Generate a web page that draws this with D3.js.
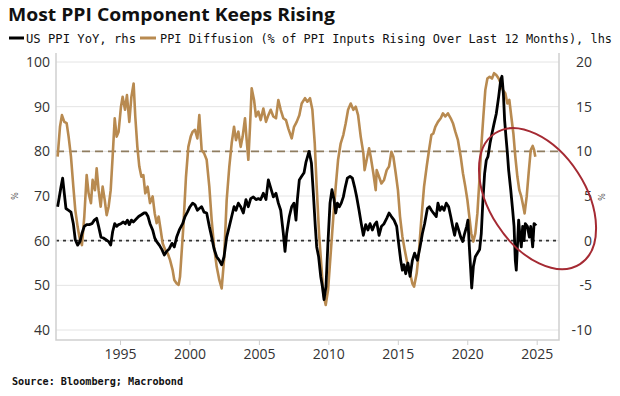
<!DOCTYPE html>
<html><head><meta charset="utf-8">
<script src="https://cdn.jsdelivr.net/npm/d3@7/dist/d3.min.js"></script>
<style>body{margin:0;background:#fff}svg{display:block}</style>
</head><body><svg id="c" width="620" height="396"></svg>
<script>
// PPI Diffusion (% of PPI inputs rising over last 12 months), left axis: [decimal year, value]
const diffusion = [[1990.51,78.8],[1990.68,85.5],[1990.82,88.1],[1990.99,86.6],[1991.16,86.3],[1991.30,83.3],[1991.47,78.8],[1991.64,72.1],[1991.78,66.9],[1991.95,63.1],[1992.12,60.1],[1992.26,59.0],[1992.43,65.4],[1992.60,74.7],[1992.74,70.6],[1992.91,68.4],[1993.03,73.6],[1993.20,71.3],[1993.32,76.2],[1993.46,71.3],[1993.61,67.6],[1993.75,72.1],[1993.90,69.1],[1994.04,65.7],[1994.18,67.6],[1994.33,71.3],[1994.47,78.8],[1994.62,87.4],[1994.76,83.3],[1994.90,84.4],[1995.07,90.0],[1995.19,92.2],[1995.36,89.3],[1995.50,92.6],[1995.67,86.6],[1995.82,92.2],[1995.98,95.2],[1996.10,87.8],[1996.25,81.0],[1996.39,76.6],[1996.54,74.3],[1996.68,74.7],[1996.82,70.6],[1996.99,72.1],[1997.16,68.4],[1997.35,69.9],[1997.50,66.1],[1997.64,63.9],[1997.78,65.4],[1997.93,62.4],[1998.07,59.4],[1998.26,57.9],[1998.43,57.2],[1998.60,55.7],[1998.79,53.4],[1998.91,51.2],[1999.08,50.4],[1999.22,50.1],[1999.32,51.9],[1999.56,63.1],[1999.75,74.3],[1999.92,81.0],[2000.09,83.3],[2000.23,84.4],[2000.40,84.8],[2000.57,82.9],[2000.71,88.1],[2000.88,80.3],[2001.05,79.6],[2001.24,78.1],[2001.43,72.1],[2001.60,64.6],[2001.77,58.7],[2001.96,54.2],[2002.15,51.2],[2002.32,49.3],[2002.49,55.7],[2002.68,69.1],[2002.87,76.6],[2003.04,81.8],[2003.21,85.5],[2003.35,82.5],[2003.52,84.4],[2003.69,81.0],[2003.83,83.3],[2004.00,87.4],[2004.12,82.5],[2004.24,78.1],[2004.36,85.5],[2004.48,94.1],[2004.65,91.5],[2004.79,87.8],[2004.96,88.9],[2005.13,87.0],[2005.32,89.6],[2005.51,86.6],[2005.68,88.1],[2005.85,89.3],[2006.04,87.8],[2006.23,87.4],[2006.40,91.5],[2006.57,89.3],[2006.76,87.4],[2006.95,87.0],[2007.12,85.1],[2007.36,82.9],[2007.53,85.5],[2007.72,86.6],[2007.91,88.1],[2008.08,90.7],[2008.32,91.9],[2008.49,91.1],[2008.68,91.9],[2008.85,89.3],[2009.02,81.8],[2009.16,72.1],[2009.33,61.6],[2009.50,54.2],[2009.64,48.2],[2009.81,45.6],[2009.98,49.0],[2010.17,57.2],[2010.36,65.4],[2010.53,72.1],[2010.70,78.1],[2010.89,81.8],[2011.08,83.7],[2011.25,86.3],[2011.42,89.3],[2011.61,90.7],[2011.80,89.3],[2011.97,90.0],[2012.14,88.1],[2012.33,83.3],[2012.52,79.6],[2012.61,75.8],[2012.76,78.1],[2012.93,80.7],[2013.05,78.8],[2013.24,75.1],[2013.41,71.3],[2013.48,75.8],[2013.65,74.3],[2013.82,72.8],[2014.01,73.6],[2014.20,75.8],[2014.37,76.6],[2014.54,79.9],[2014.68,78.8],[2014.85,75.1],[2015.01,71.3],[2015.16,65.4],[2015.33,60.9],[2015.50,57.9],[2015.69,54.9],[2015.88,52.7],[2016.05,50.4],[2016.17,49.7],[2016.36,52.7],[2016.53,57.9],[2016.69,64.6],[2016.89,72.1],[2017.08,76.6],[2017.25,80.3],[2017.42,83.7],[2017.56,84.0],[2017.70,85.5],[2017.89,86.6],[2018.09,87.4],[2018.25,88.5],[2018.42,87.8],[2018.61,88.5],[2018.81,87.4],[2018.97,86.3],[2019.14,84.4],[2019.33,82.5],[2019.53,78.8],[2019.69,75.1],[2019.86,72.1],[2020.01,69.1],[2020.15,65.4],[2020.29,61.6],[2020.44,59.8],[2020.58,61.6],[2020.73,66.1],[2020.89,74.3],[2021.01,81.0],[2021.16,87.8],[2021.30,93.7],[2021.45,96.3],[2021.61,96.7],[2021.78,96.3],[2021.93,97.5],[2022.09,97.1],[2022.26,96.3],[2022.41,95.2],[2022.57,93.7],[2022.74,93.0],[2022.89,90.7],[2023.03,91.5],[2023.17,87.8],[2023.32,84.0],[2023.46,78.8],[2023.61,74.3],[2023.75,71.3],[2023.89,69.9],[2024.04,67.6],[2024.13,66.1],[2024.28,69.9],[2024.42,75.1],[2024.57,80.3],[2024.71,81.2],[2024.81,80.3],[2024.90,78.8]];

// US PPI YoY (%), right axis: [decimal year, value]
const ppiYoY = [[1990.51,3.8],[1990.63,4.9],[1990.75,6.0],[1990.87,7.0],[1990.99,5.3],[1991.11,3.6],[1991.30,3.4],[1991.47,3.2],[1991.64,1.9],[1991.78,0.1],[1991.95,-0.5],[1992.12,-0.1],[1992.26,0.8],[1992.43,1.6],[1992.60,1.8],[1992.79,1.8],[1992.98,1.9],[1993.15,2.3],[1993.32,2.5],[1993.46,1.6],[1993.63,0.4],[1993.80,0.3],[1993.99,0.1],[1994.18,-0.1],[1994.33,-0.5],[1994.47,1.0],[1994.62,1.9],[1994.76,1.6],[1994.90,1.8],[1995.07,1.9],[1995.24,2.1],[1995.38,1.9],[1995.53,2.3],[1995.67,1.8],[1995.82,2.3],[1995.96,2.1],[1996.15,2.4],[1996.34,2.7],[1996.54,2.9],[1996.73,3.1],[1996.87,3.1],[1997.02,2.7],[1997.16,1.9],[1997.35,1.2],[1997.50,0.3],[1997.64,-0.1],[1997.83,-0.5],[1998.02,-1.0],[1998.19,-1.6],[1998.36,-1.2],[1998.55,-0.9],[1998.74,-0.3],[1998.91,-0.7],[1999.08,0.4],[1999.27,1.2],[1999.51,1.9],[1999.68,2.7],[1999.85,3.2],[2000.04,3.8],[2000.23,4.2],[2000.40,4.0],[2000.57,3.4],[2000.71,3.6],[2000.88,3.8],[2001.05,3.2],[2001.24,3.1],[2001.43,1.6],[2001.60,0.4],[2001.77,-0.9],[2001.96,-1.8],[2002.15,-2.2],[2002.32,-2.7],[2002.49,-1.8],[2002.68,0.4],[2002.87,1.6],[2003.04,2.7],[2003.21,3.8],[2003.35,3.4],[2003.52,4.2],[2003.69,3.8],[2003.88,3.1],[2004.07,4.6],[2004.24,3.8],[2004.41,4.7],[2004.60,4.9],[2004.79,4.6],[2004.96,4.7],[2005.13,4.6],[2005.32,5.3],[2005.51,4.6],[2005.68,6.8],[2005.85,5.9],[2006.04,4.9],[2006.23,5.3],[2006.40,4.2],[2006.57,3.4],[2006.76,0.8],[2006.88,-1.2],[2007.00,0.8],[2007.19,2.7],[2007.36,3.8],[2007.53,4.2],[2007.67,2.3],[2007.77,4.6],[2007.91,6.8],[2008.08,7.2],[2008.25,7.6],[2008.39,8.8],[2008.61,10.0],[2008.78,8.7],[2008.92,5.3],[2009.06,1.6],[2009.16,-0.7],[2009.30,-1.8],[2009.45,-4.0],[2009.57,-5.1],[2009.69,-6.6],[2009.83,-5.1],[2009.97,-0.3],[2010.12,4.2],[2010.26,5.7],[2010.41,4.6],[2010.53,3.1],[2010.65,4.2],[2010.79,3.8],[2010.93,4.2],[2011.08,4.9],[2011.22,6.0],[2011.37,7.0],[2011.56,7.2],[2011.73,7.0],[2011.89,6.0],[2012.04,4.9],[2012.21,3.4],[2012.37,1.9],[2012.52,0.6],[2012.69,1.8],[2012.85,1.2],[2013.00,1.9],[2013.17,1.2],[2013.33,1.8],[2013.48,2.1],[2013.65,0.6],[2013.82,1.6],[2014.01,1.9],[2014.20,2.5],[2014.37,3.1],[2014.54,2.7],[2014.73,2.3],[2014.92,1.6],[2015.06,-0.3],[2015.21,-2.2],[2015.33,-3.3],[2015.45,-2.7],[2015.57,-3.7],[2015.73,-2.5],[2015.88,-4.0],[2016.05,-2.2],[2016.21,-1.4],[2016.41,-2.2],[2016.60,-0.7],[2016.77,0.8],[2016.93,1.9],[2017.13,3.6],[2017.27,3.8],[2017.42,3.4],[2017.56,3.1],[2017.77,2.7],[2017.89,4.2],[2018.04,3.4],[2018.18,3.8],[2018.33,3.4],[2018.49,4.2],[2018.66,3.8],[2018.81,2.7],[2018.95,1.6],[2019.09,0.6],[2019.24,1.9],[2019.38,1.2],[2019.53,0.4],[2019.67,-0.1],[2019.81,0.8],[2019.96,1.6],[2020.05,2.3],[2020.15,-0.7],[2020.25,-3.3],[2020.32,-5.3],[2020.44,-2.9],[2020.58,-1.8],[2020.73,-1.4],[2020.89,-1.0],[2021.01,0.8],[2021.13,4.6],[2021.25,7.5],[2021.37,9.0],[2021.49,9.4],[2021.64,10.9],[2021.78,12.0],[2021.93,13.1],[2022.09,14.2],[2022.26,16.1],[2022.41,18.0],[2022.50,18.4],[2022.60,16.5],[2022.69,13.5],[2022.79,11.6],[2022.89,9.8],[2022.98,7.9],[2023.13,5.7],[2023.27,3.4],[2023.37,1.6],[2023.46,-2.2],[2023.53,-3.3],[2023.61,-0.7],[2023.70,2.3],[2023.80,0.4],[2023.89,-0.7],[2023.99,1.6],[2024.09,0.0],[2024.18,1.9],[2024.33,1.6],[2024.47,0.4],[2024.57,1.6],[2024.71,-0.7],[2024.81,1.9],[2024.90,1.8],[2024.97,1.9]];

const xTickYears = [1995, 2000, 2005, 2010, 2015, 2020, 2025];
const leftTicks = [40, 50, 60, 70, 80, 90, 100];
const rightTicks = [-10, -5, 0, 5, 10, 15, 20];
const leftRefDashed = 80;   // dashed reference line (lhs)
const rightRefDotted = 0;   // dotted reference line (rhs)
const titleText = "Most PPI Component Keeps Rising";
const legendLabels = ["US PPI YoY, rhs", "PPI Diffusion (% of PPI Inputs Rising Over Last 12 Months), lhs"];
const sourceText = "Source: Bloomberg; Macrobond";
// annotation ellipse: centre in data units (year, rhs value)
const ellipseCentre = [2025.06, 4.7];

const svg = d3.select("#c");
const box = {left: 56, right: 559, top: 53, bottom: 340};
const x = d3.scaleLinear().domain([1995, 2025]).range([120, 536.7]);
const yL = d3.scaleLinear().domain([40, 100]).range([330, 62]);
const yR = d3.scaleLinear().domain([-10, 20]).range([330, 62]);
const gold = "#b88a50";

// title
svg.append("text").attr("x", 8).attr("y", 21).text(titleText)
  .attr("font-family", "'Open Sans', 'DejaVu Sans', sans-serif").attr("font-weight", 700)
  .attr("font-size", 18).attr("fill", "#111")
  .attr("textLength", 327).attr("lengthAdjust", "spacingAndGlyphs");

// legend
const legY = 38;
svg.append("line").attr("x1", 9).attr("x2", 24).attr("y1", legY).attr("y2", legY)
  .attr("stroke", "#000").attr("stroke-width", 3);
svg.append("text").attr("x", 26).attr("y", legY + 4.5).text(legendLabels[0])
  .attr("font-family", "'DejaVu Sans Mono', monospace").attr("font-size", 12).attr("fill", "#111")
  .attr("textLength", 110).attr("lengthAdjust", "spacingAndGlyphs");
svg.append("line").attr("x1", 140).attr("x2", 156).attr("y1", legY).attr("y2", legY)
  .attr("stroke", gold).attr("stroke-width", 3);
svg.append("text").attr("x", 160).attr("y", legY + 4.5).text(legendLabels[1])
  .attr("font-family", "'DejaVu Sans Mono', monospace").attr("font-size", 11.8).attr("fill", "#111")
  .attr("textLength", 452).attr("lengthAdjust", "spacingAndGlyphs");

// gridlines
svg.append("g").selectAll("line").data(leftTicks).join("line")
  .attr("x1", box.left).attr("x2", box.right)
  .attr("y1", d => yL(d)).attr("y2", d => yL(d))
  .attr("stroke", "#e4e4e4").attr("stroke-width", 1);

// reference lines
svg.append("line").attr("x1", box.left).attr("x2", box.right)
  .attr("y1", yL(leftRefDashed)).attr("y2", yL(leftRefDashed))
  .attr("stroke", "#8f7d60").attr("stroke-width", 1.6).attr("stroke-dasharray", "8,5");
svg.append("line").attr("x1", box.left).attr("x2", box.right)
  .attr("y1", yR(rightRefDotted)).attr("y2", yR(rightRefDotted))
  .attr("stroke", "#333").attr("stroke-width", 1.6).attr("stroke-dasharray", "3,4");

// frame
svg.append("path")
  .attr("d", `M${box.left},${box.top}V${box.bottom}H${box.right}V${box.top}`)
  .attr("fill", "none").attr("stroke", "#cfcfcf").attr("stroke-width", 1.5);

// x axis
const xAxis = svg.append("g").attr("transform", `translate(0,${box.bottom})`)
  .call(d3.axisBottom(x).tickValues(xTickYears).tickFormat(d3.format("d")).tickSize(5).tickPadding(4));
xAxis.select(".domain").remove();
xAxis.selectAll(".tick line").attr("stroke", "#cfcfcf");
xAxis.selectAll("text").attr("font-family", "'Open Sans', sans-serif").attr("font-size", 14).attr("fill", "#333");

// left axis
const lAxis = svg.append("g").attr("transform", `translate(${box.left},0)`)
  .call(d3.axisLeft(yL).tickValues(leftTicks).tickSize(0).tickPadding(6));
lAxis.select(".domain").remove();
lAxis.selectAll("text").attr("font-family", "'Open Sans', sans-serif").attr("font-size", 14).attr("fill", "#333");

// right axis
const rAxis = svg.append("g").attr("transform", `translate(${box.right},0)`)
  .call(d3.axisRight(yR).tickValues(rightTicks).tickFormat(d => String(d)).tickSize(0));
rAxis.select(".domain").remove();
rAxis.selectAll("text").attr("text-anchor", "end").attr("x", 33)
  .attr("font-family", "'Open Sans', sans-serif").attr("font-size", 14).attr("fill", "#333");

// axis unit icons
svg.append("text").attr("x", 14).attr("y", yL(70)).attr("dy", "0.35em").text("%")
  .attr("text-anchor", "middle").attr("font-size", 8).attr("font-family", "'DejaVu Sans', sans-serif")
  .attr("fill", "#555").attr("transform", `rotate(90,14,${yL(70)})`);
svg.append("text").attr("x", 601).attr("y", yR(5) + 1).attr("dy", "0.35em").text("%")
  .attr("text-anchor", "middle").attr("font-size", 8).attr("font-family", "'DejaVu Sans', sans-serif")
  .attr("fill", "#555").attr("transform", `rotate(90,601,${yR(5) + 1})`);

// series
const lineL = d3.line().x(d => x(d[0])).y(d => yL(d[1]));
const lineR = d3.line().x(d => x(d[0])).y(d => yR(d[1]));
svg.append("path").datum(diffusion).attr("d", lineL)
  .attr("fill", "none").attr("stroke", gold).attr("stroke-width", 2.6).attr("stroke-linejoin", "round");
svg.append("path").datum(ppiYoY).attr("d", lineR)
  .attr("fill", "none").attr("stroke", "#000").attr("stroke-width", 2.8).attr("stroke-linejoin", "round");

// annotation ellipse
const ex = x(ellipseCentre[0]), ey = yR(ellipseCentre[1]);
svg.append("ellipse").attr("cx", 0).attr("cy", 0).attr("rx", 78).attr("ry", 48)
  .attr("transform", `translate(${ex},${ey}) rotate(57)`)
  .attr("fill", "none").attr("stroke", "#a52a33").attr("stroke-width", 2);

// source
svg.append("text").attr("x", 12).attr("y", 385).text(sourceText)
  .attr("font-family", "'DejaVu Sans Mono', monospace").attr("font-weight", 700)
  .attr("font-size", 10).attr("fill", "#111")
  .attr("textLength", 171).attr("lengthAdjust", "spacingAndGlyphs");
</script>
</body></html>
